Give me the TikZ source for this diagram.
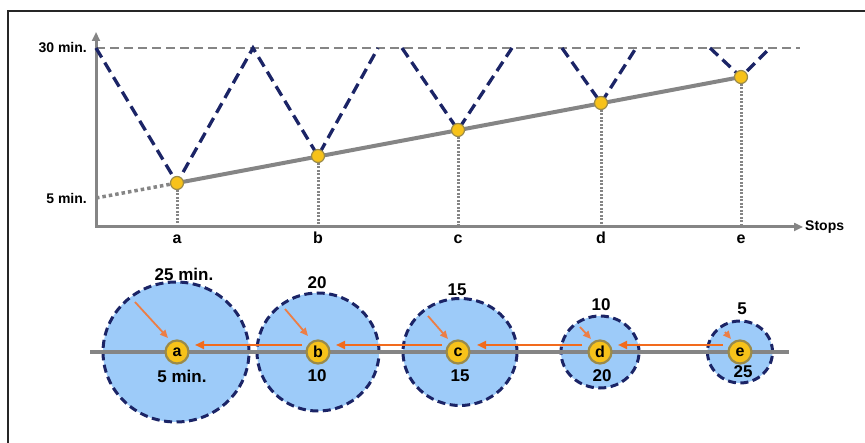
\documentclass[tikz,border=0pt]{standalone}
\usepackage{fontspec}
\setmainfont{Liberation Sans}
\usetikzlibrary{arrows.meta, positioning, shapes.geometric}

\definecolor{navyline}{HTML}{1B2466}
\definecolor{axisgray}{HTML}{858585}
\definecolor{zonefill}{HTML}{9DCBF9}
\definecolor{stopgold}{HTML}{F7C21A}
\definecolor{stoprim}{HTML}{9A8A4A}
\definecolor{floworange}{HTML}{F26B1D}
\definecolor{walkorange}{HTML}{EC7E46}

\begin{document}
\begin{tikzpicture}[
    x=1pt, y=-1pt,
    lbl/.style={font=\bfseries\fontsize{14}{14}\selectfont, inner sep=1pt},
    letter/.style={font=\bfseries\fontsize{16}{16}\selectfont, inner sep=0pt},
    num/.style={font=\bfseries\fontsize{17}{17}\selectfont, inner sep=0pt},
    axis/.style={draw=axisgray, line width=3pt, {Triangle[length=9pt,width=8pt]}-{Triangle[length=9pt,width=8pt]}},
    ceiling/.style={draw=axisgray, line width=1.8pt, dash pattern=on 9pt off 5pt},
    wait/.style={draw=navyline, line width=3.3pt, dash pattern=on 11pt off 6pt},
    trend/.style={draw=axisgray, line width=4pt},
    trenddot/.style={draw=axisgray, line width=3.5pt, dash pattern=on 3.5pt off 3pt},
    drop/.style={draw=axisgray, line width=3pt, dash pattern=on 2pt off 1.5pt},
    dot/.style={circle, fill=stopgold, draw=stoprim, line width=1.2pt, minimum size=13pt, inner sep=0pt},
    zone/.style={ellipse, fill=zonefill, draw=navyline, line width=3pt, dash pattern=on 8pt off 4.5pt, inner sep=0pt},
    route/.style={draw=axisgray, line width=4.5pt},
    stop/.style={circle, fill=stopgold, draw=stoprim, line width=2.2pt, minimum size=23pt, inner sep=0pt, font=\bfseries\fontsize{16}{16}\selectfont},
    flow/.style={draw=floworange, line width=2.2pt, -{Triangle[length=9pt,width=8pt]}},
    walk/.style={draw=walkorange, line width=1.8pt, -{Triangle[length=8pt,width=7pt]}},
]
\useasboundingbox (0,0) rectangle (865,443);
\draw[line width=2.2pt, black!85] (8,460) -- (8,11) -- (880,11);

% chart
\coordinate (origin) at (96,227);
\coordinate (ytop) at (96,32);
\coordinate (xend) at (803,227);
\coordinate (t30) at (96,48);
\coordinate (t5) at (96,198);
\coordinate (pa) at (177,183);
\coordinate (pb) at (318,156);
\coordinate (pc) at (458,130);
\coordinate (pd) at (601,103);
\coordinate (pe) at (741,77);

\draw[ceiling] (t30) -- (800,48);
\foreach \p/\s in {pa/a, pb/b, pc/c, pd/d, pe/e} {
    \draw[drop] (\p) -- (\p |- origin);
    \node[letter, anchor=base] (lbl\s) at ([yshift=-17pt]\p |- origin) {\s};
}
\draw[axis] (ytop) -- (origin) -- (xend);
\node[lbl, left=8pt of t30] (l30) {30 min.};
\node[lbl, left=8pt of t5] (l5) {5 min.};
\node[lbl, right=1pt of xend] (lstops) {Stops};

\draw[trenddot] (t5) -- (pa);
\draw[trend] (pa) -- (pe);

% waiting time zigzag
\draw[wait] (t30) -- (pa) -- (253,48) -- (pb) -- (378,48);
\draw[wait] (402,48) -- (pc) -- (512,48);
\draw[wait] (562,48) -- (pd) -- (636,48);
\draw[wait] (710,48) -- (pe) -- (770,48);

\foreach \p in {pa, pb, pc, pd, pe}
    \node[dot] (dot\p) at (\p) {};

% catchment circles
\node[zone, minimum width=146pt, minimum height=140pt] (za) at (176,352) {};
\node[zone, minimum width=122pt, minimum height=118pt] (zb) at (318,352) {};
\node[zone, minimum width=114pt, minimum height=107pt] (zc) at (460,352) {};
\node[zone, minimum width=78pt, minimum height=72pt] (zd) at (600,352) {};
\node[zone, minimum width=65pt, minimum height=62pt] (ze) at (740,352) {};

\coordinate (rstart) at (90,352);
\coordinate (rend) at (789,352);
\draw[route] (rstart) -- (rend);

\node[stop] (sa) at (177,352) {a};
\node[stop] (sb) at (318,352) {b};
\node[stop] (sc) at (458,352) {c};
\node[stop] (sd) at (600,352) {d};
\node[stop] (se) at (740,352) {e};

\draw[flow] ([shift={(-16,-7)}]sb.center) -- ([shift={(18,-7)}]sa.center);
\draw[flow] ([shift={(-16,-7)}]sc.center) -- ([shift={(18,-7)}]sb.center);
\draw[flow] ([shift={(-18,-7)}]sd.center) -- ([shift={(19,-7)}]sc.center);
\draw[flow] ([shift={(-17,-7)}]se.center) -- ([shift={(18,-7)}]sd.center);

\draw[walk] ([shift={(-42,-50)}]sa.center) -- ([shift={(-9,-14)}]sa.center);
\draw[walk] ([shift={(-33,-43)}]sb.center) -- ([shift={(-10,-16)}]sb.center);
\draw[walk] ([shift={(-30,-36)}]sc.center) -- ([shift={(-10,-13)}]sc.center);
\draw[walk] ([shift={(-20,-25)}]sd.center) -- ([shift={(-9,-13)}]sd.center);
\draw[walk] ([shift={(-15,-20)}]se.center) -- ([shift={(-9,-13)}]se.center);

% in-vehicle and walking minutes
\node[num] (ta) at (184,274) {25 min.};
\node[num] (ba) at (182,376) {5 min.};
\node[num] (tb) at (317,283) {20};
\node[num] (bb) at (317,376) {10};
\node[num] (tc) at (457,290) {15};
\node[num] (bc) at (460,376) {15};
\node[num] (td) at (601,305) {10};
\node[num] (bd) at (602,376) {20};
\node[num] (te) at (742,309) {5};
\node[num] (be) at (743,372) {25};
\end{tikzpicture}
\end{document}
